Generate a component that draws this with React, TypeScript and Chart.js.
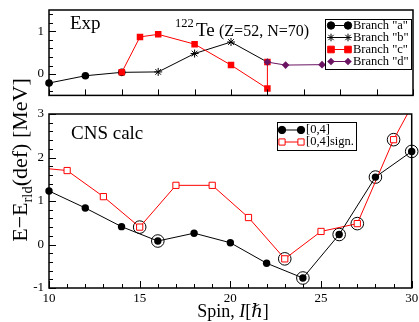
import React, { useEffect, useRef } from 'react';
import { Chart, registerables } from 'chart.js';

Chart.register(...registerables);

const FONT = "'Liberation Serif', 'DejaVu Serif', serif";

// ---- Top panel (experiment) ----
const branchASpin = [10, 12, 14];
const branchAE = [-0.21, -0.04, 0.04];
const branchBSpin = [14, 16, 18, 20, 22];
const branchBE = [0.04, 0.05, 0.48, 0.75, 0.28];
const branchCSpin = [14, 15, 16, 18, 20, 22, 22];
const branchCE = [0.04, 0.87, 0.93, 0.7, 0.21, -0.34, 0.28];
const branchDSpin = [22, 23, 25];
const branchDE = [0.28, 0.21, 0.22];

// ---- Bottom panel (CNS calc) ----
const calcSpin = [10, 12, 14, 16, 18, 20, 22, 24, 26, 28, 30];
const calcE = [1.23, 0.84, 0.41, 0.08, 0.26, 0.04, -0.43, -0.77, 0.23, 1.55, 2.14];
const signSpin = [10, 11, 13, 15, 17, 19, 21, 23, 25, 27, 29, 31];
const signE = [1.74, 1.7, 1.1, 0.4, 1.36, 1.36, 0.62, -0.33, 0.3, 0.48, 2.41, 3.95];
const calcCircled = [16, 24, 26, 28, 30];
const signCircled = [15, 23, 27, 29];

// ---- Tick labels ----
const spinLabels = [10, 15, 20, 25, 30];
const topEnergyLabels = [0, 1];
const bottomEnergyLabels = [-1, 0, 1, 2, 3];

const legendTop = ['Branch "a"', 'Branch "b"', 'Branch "c"', 'Branch "d"'];
const legendBottom = ['[0,4]', '[0,4]sign.'];

const PURPLE = '#6b1462';
const RED = '#ff0000';

const pts = (xs: number[], ys: number[]) => xs.map((x, i) => ({ x, y: ys[i] }));
const range = (a: number, b: number, s: number) => {
  const out: number[] = [];
  for (let v = a; v <= b + 1e-9; v += s) out.push(Math.round(v * 1000) / 1000);
  return out;
};

function drawCircle(ctx: CanvasRenderingContext2D, x: number, y: number, r: number, fill: string | null, stroke: string) {
  ctx.beginPath();
  ctx.arc(x, y, r, 0, Math.PI * 2);
  if (fill) { ctx.fillStyle = fill; ctx.fill(); }
  ctx.strokeStyle = stroke; ctx.lineWidth = 1; ctx.stroke();
}
function drawSquare(ctx: CanvasRenderingContext2D, x: number, y: number, h: number, fill: string, stroke: string) {
  ctx.beginPath();
  ctx.rect(x - h, y - h, 2 * h, 2 * h);
  ctx.fillStyle = fill; ctx.fill();
  ctx.strokeStyle = stroke; ctx.lineWidth = 1; ctx.stroke();
}
function drawDiamond(ctx: CanvasRenderingContext2D, x: number, y: number, r: number, color: string) {
  ctx.beginPath();
  ctx.moveTo(x, y - r); ctx.lineTo(x + r, y); ctx.lineTo(x, y + r); ctx.lineTo(x - r, y); ctx.closePath();
  ctx.fillStyle = color; ctx.fill();
}
function drawStar(ctx: CanvasRenderingContext2D, x: number, y: number, r: number) {
  ctx.beginPath();
  for (let k = 0; k < 4; k++) {
    const a = (k * Math.PI) / 4;
    ctx.moveTo(x - r * Math.cos(a), y - r * Math.sin(a));
    ctx.lineTo(x + r * Math.cos(a), y + r * Math.sin(a));
  }
  ctx.strokeStyle = '#000'; ctx.lineWidth = 1; ctx.stroke();
}

function frameTicks(chart: any, xMinor: number[], xMajor: number[], yMinor: number[], yMajor: number[], xMajLen: number, xMinLen: number) {
  const { ctx, chartArea: a, scales } = chart;
  ctx.save();
  ctx.strokeStyle = '#000';
  ctx.lineWidth = 1;
  ctx.beginPath();
  xMinor.forEach((v) => {
    const x = Math.round(scales.x.getPixelForValue(v)) + 0.5;
    ctx.moveTo(x, a.bottom); ctx.lineTo(x, a.bottom - xMinLen);
  });
  xMajor.forEach((v) => {
    const x = Math.round(scales.x.getPixelForValue(v)) + 0.5;
    ctx.moveTo(x, a.bottom); ctx.lineTo(x, a.bottom - xMajLen);
  });
  yMinor.forEach((v) => {
    const y = Math.round(scales.y.getPixelForValue(v)) + 0.5;
    ctx.moveTo(a.left, y); ctx.lineTo(a.left + 4, y);
  });
  yMajor.forEach((v) => {
    const y = Math.round(scales.y.getPixelForValue(v)) + 0.5;
    ctx.moveTo(a.left, y); ctx.lineTo(a.left + 7, y);
  });
  ctx.stroke();
  ctx.lineWidth = 1.5;
  ctx.strokeRect(a.left, a.top, a.right - a.left, a.bottom - a.top);
  ctx.restore();
}

const tickFont = { family: FONT, size: 13 };

export default function App() {
  const topRef = useRef<HTMLCanvasElement>(null);
  const botRef = useRef<HTMLCanvasElement>(null);

  useEffect(() => {
    document.body.style.margin = '0';

    const rings = [
      ...calcCircled.map((s) => ({ x: s, y: calcE[calcSpin.indexOf(s)] })),
      ...signCircled.map((s) => ({ x: s, y: signE[signSpin.indexOf(s)] })),
    ];

    const bottom = new Chart(botRef.current!, {
      type: 'line',
      data: {
        datasets: [
          {
            label: legendBottom[0],
            data: pts(calcSpin, calcE),
            borderColor: '#000',
            backgroundColor: '#000',
            borderWidth: 1,
            pointStyle: 'circle',
            pointRadius: 3.7,
            pointBorderWidth: 0,
            clip: { left: 10, right: 10, top: 0, bottom: 10 } as any,
          },
          {
            label: legendBottom[1],
            data: pts(signSpin, signE),
            borderColor: RED,
            backgroundColor: '#fff',
            borderWidth: 1,
            pointStyle: 'rect',
            pointRadius: (c: any) => (c.dataIndex === 0 ? 0 : 4.4),
            pointBorderWidth: 1,
            clip: { left: 10, right: 10, top: 0, bottom: 10 } as any,
          },
          {
            label: 'circled',
            data: rings,
            showLine: false,
            borderColor: '#000',
            backgroundColor: 'rgba(0,0,0,0)',
            pointStyle: 'circle',
            pointRadius: 6.3,
            pointBorderWidth: 1,
            clip: false as any,
          },
        ],
      },
      options: {
        responsive: false,
        animation: false,
        devicePixelRatio: 1,
        layout: { padding: { left: 0, right: 6, top: 114, bottom: 0 } },
        plugins: { legend: { display: false }, tooltip: { enabled: false } },
        events: [],
        scales: {
          x: {
            type: 'linear',
            min: 10,
            max: 30,
            grid: { display: false, drawTicks: false },
            border: { display: false },
            ticks: { font: tickFont, color: '#000', padding: 3, autoSkip: false, maxRotation: 0 },
            afterBuildTicks: (s: any) => { s.ticks = spinLabels.map((v) => ({ value: v })); },
            afterFit: (s: any) => { s.height = 34; s.paddingLeft = 0; s.paddingRight = 0; },
          },
          y: {
            type: 'linear',
            min: -1,
            max: 3,
            grid: { display: false, drawTicks: false },
            border: { display: false },
            ticks: { font: tickFont, color: '#000', padding: 5, autoSkip: false },
            afterBuildTicks: (s: any) => { s.ticks = bottomEnergyLabels.map((v) => ({ value: v })); },
            afterFit: (s: any) => { s.width = 49; s.paddingTop = 0; s.paddingBottom = 0; },
          },
        },
      },
      plugins: [
        {
          id: 'decoBottom',
          afterDraw(chart: any) {
            frameTicks(chart, range(10, 30, 1), spinLabels, range(-1, 3, 0.2), bottomEnergyLabels, 7, 4);
            const ctx = chart.ctx as CanvasRenderingContext2D;
            ctx.save();
            ctx.fillStyle = '#000';
            ctx.textBaseline = 'alphabetic';
            ctx.textAlign = 'left';
            ctx.font = `19px ${FONT}`;
            ctx.fillText('CNS calc', 71, 139);

            // legend
            ctx.fillStyle = '#fff';
            ctx.fillRect(277, 122, 79, 28);
            ctx.strokeStyle = '#000';
            ctx.lineWidth = 1;
            ctx.strokeRect(277.5, 122.5, 79, 28);
            const rows = [130, 142];
            ctx.beginPath();
            ctx.moveTo(282, rows[0]); ctx.lineTo(301, rows[0]);
            ctx.stroke();
            drawCircle(ctx, 282, rows[0], 3.7, '#000', '#000');
            drawCircle(ctx, 301, rows[0], 3.7, '#000', '#000');
            ctx.beginPath();
            ctx.strokeStyle = RED;
            ctx.moveTo(282, rows[1]); ctx.lineTo(301, rows[1]);
            ctx.stroke();
            drawSquare(ctx, 282, rows[1], 3.1, '#fff', RED);
            drawSquare(ctx, 301, rows[1], 3.1, '#fff', RED);
            ctx.fillStyle = '#000';
            ctx.font = `12.5px ${FONT}`;
            ctx.textBaseline = 'middle';
            ctx.fillText(legendBottom[0], 306, rows[0]);
            ctx.fillText(legendBottom[1], 306, rows[1]);

            // x title
            ctx.textBaseline = 'alphabetic';
            const f = `18px ${FONT}`;
            const fi = `italic 18px ${FONT}`;
            const parts: [string, string][] = [['Spin, ', f], ['I', fi], ['[\u210F]', f]];
            let total = 0;
            parts.forEach(([t, ft]) => { ctx.font = ft; total += ctx.measureText(t).width; });
            let x = 233 - total / 2;
            parts.forEach(([t, ft]) => { ctx.font = ft; ctx.fillText(t, x, 317); x += ctx.measureText(t).width; });

            // y title
            ctx.translate(27, 160);
            ctx.rotate(-Math.PI / 2);
            const big = `22px ${FONT}`;
            const small = `14.5px ${FONT}`;
            const yparts: [string, string, number][] = [['E\u2212E', big, 0], ['rld', small, 5], ['(def) [MeV]', big, 0]];
            let tw = 0;
            yparts.forEach(([t, ft]) => { ctx.font = ft; tw += ctx.measureText(t).width; });
            let px = -tw / 2;
            yparts.forEach(([t, ft, dy]) => { ctx.font = ft; ctx.fillText(t, px, dy); px += ctx.measureText(t).width; });
            ctx.restore();
          },
        },
      ],
    } as any);

    const top = new Chart(topRef.current!, {
      type: 'line',
      data: {
        datasets: [
          {
            label: legendTop[3],
            data: pts(branchDSpin, branchDE),
            borderColor: PURPLE,
            backgroundColor: PURPLE,
            borderWidth: 1,
            pointStyle: 'rectRot',
            pointRadius: 3.8,
            pointBorderWidth: 0,
            clip: { left: 10, right: 10, top: 0, bottom: 10 } as any,
          },
          {
            label: legendTop[2],
            data: pts(branchCSpin, branchCE),
            borderColor: RED,
            backgroundColor: RED,
            borderWidth: 1,
            pointStyle: 'rect',
            pointRadius: 4.6,
            pointBorderWidth: 0,
            clip: { left: 10, right: 10, top: 0, bottom: 10 } as any,
          },
          {
            label: legendTop[1],
            data: pts(branchBSpin, branchBE),
            borderColor: '#000',
            backgroundColor: '#000',
            borderWidth: 1,
            pointStyle: 'star',
            pointRadius: (c: any) => (c.dataIndex === 0 || c.dataIndex === branchBSpin.length - 1 ? 0 : 4),
            pointBorderWidth: 1,
            clip: { left: 10, right: 10, top: 0, bottom: 10 } as any,
          },
          {
            label: legendTop[0],
            data: pts(branchASpin, branchAE),
            borderColor: '#000',
            backgroundColor: '#000',
            borderWidth: 1,
            pointStyle: 'circle',
            pointRadius: 3.8,
            pointBorderWidth: 0,
            clip: { left: 10, right: 10, top: 0, bottom: 10 } as any,
          },
        ],
      },
      options: {
        responsive: false,
        animation: false,
        devicePixelRatio: 1,
        layout: { padding: { left: 0, right: 6, top: 10, bottom: 3 } },
        plugins: { legend: { display: false }, tooltip: { enabled: false } },
        events: [],
        scales: {
          x: { type: 'linear', min: 10, max: 30, display: false },
          y: {
            type: 'linear',
            min: -0.5,
            max: 1.5,
            grid: { display: false, drawTicks: false },
            border: { display: false },
            ticks: { font: tickFont, color: '#000', padding: 5, autoSkip: false },
            afterBuildTicks: (s: any) => { s.ticks = topEnergyLabels.map((v) => ({ value: v })); },
            afterFit: (s: any) => { s.width = 49; s.paddingTop = 0; s.paddingBottom = 0; },
          },
        },
      },
      plugins: [
        {
          id: 'decoTop',
          afterDraw(chart: any) {
            frameTicks(chart, [], range(10, 30, 2), range(-0.4, 1.4, 0.2), topEnergyLabels, 6, 6);
            const ctx = chart.ctx as CanvasRenderingContext2D;
            ctx.save();
            ctx.fillStyle = '#000';
            ctx.textAlign = 'left';
            ctx.textBaseline = 'alphabetic';
            ctx.font = `19px ${FONT}`;
            ctx.fillText('Exp', 70, 29);
            ctx.font = `12.5px ${FONT}`;
            ctx.fillText('122', 175, 27);
            ctx.font = `19px ${FONT}`;
            ctx.fillText('Te', 196, 36);
            ctx.font = `16px ${FONT}`;
            ctx.fillText('(Z=52, N=70)', 219, 36);

            // legend
            ctx.fillStyle = '#fff';
            ctx.fillRect(325, 19, 86, 50);
            ctx.strokeStyle = '#000';
            ctx.lineWidth = 1;
            ctx.strokeRect(325.5, 19.5, 86, 50);
            const rows = [25.5, 37.5, 49.5, 61.5];
            const colors = ['#000', '#000', RED, PURPLE];
            rows.forEach((y, i) => {
              ctx.beginPath();
              ctx.strokeStyle = colors[i];
              ctx.lineWidth = 1;
              ctx.moveTo(331, y); ctx.lineTo(348, y);
              ctx.stroke();
              [331, 348].forEach((x) => {
                if (i === 0) drawCircle(ctx, x, y, 3.7, '#000', '#000');
                if (i === 1) drawStar(ctx, x, y, 3.8);
                if (i === 2) drawSquare(ctx, x, y, 3.3, RED, RED);
                if (i === 3) drawDiamond(ctx, x, y, 3.8, PURPLE);
              });
            });
            ctx.fillStyle = '#000';
            ctx.font = `12.5px ${FONT}`;
            ctx.textBaseline = 'middle';
            legendTop.forEach((t, i) => ctx.fillText(t, 353, rows[i]));
            ctx.restore();
          },
        },
      ],
    } as any);

    return () => {
      top.destroy();
      bottom.destroy();
    };
  }, []);

  return (
    <div style={{ position: 'relative', width: 419, height: 322, background: '#fff' }}>
      <canvas ref={botRef} width={419} height={322} style={{ position: 'absolute', left: 0, top: 0 }} />
      <canvas ref={topRef} width={419} height={100} style={{ position: 'absolute', left: 0, top: 0 }} />
    </div>
  );
}
